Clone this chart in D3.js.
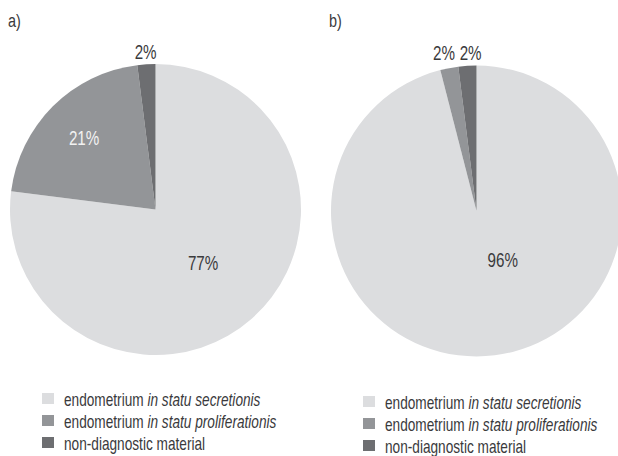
<!DOCTYPE html>
<html>
<head>
<meta charset="utf-8">
<script src="https://cdn.jsdelivr.net/npm/d3@7"></script>
<style>
body { margin: 0; background: #fff; }
text { font-family: "Liberation Sans", Arial, sans-serif; }
</style>
</head>
<body>
<svg id="chart" width="618" height="456"></svg>
<script>
// categories and values
var categories = ["secretionis", "proliferationis", "nondiagnostic"];
var valuesA = [77, 21, 2];
var valuesB = [96, 2, 2];
var panelLabels = ["a)", "b)"];

var colors = d3.scaleOrdinal()
    .domain(categories)
    .range(["#dcdddf", "#939598", "#6d6e71"]);

var svg = d3.select("#chart");

var radius = 145.5;
var squeeze = 0.76;   // condensed look of the original typeface

var pie = d3.pie().sort(null).value(function(d) { return d.value; });
var arc = d3.arc().innerRadius(0).outerRadius(radius);

var drawPie = function(values, cx, cy, panel, labelCfg) {
    var data = categories.map(function(c, i) { return {cat: c, value: values[i]}; });
    var g = svg.append("g").attr("transform", "translate(" + cx + "," + cy + ")");

    g.selectAll("path")
        .data(pie(data))
        .enter()
        .append("path")
        .attr("d", arc)
        .attr("fill", function(d) { return colors(d.data.cat); });

    g.selectAll("text.val")
        .data(pie(data))
        .enter()
        .append("text")
        .attr("class", "val")
        .attr("text-anchor", "middle")
        .attr("dominant-baseline", "central")
        .attr("font-size", 20)
        .attr("fill", function(d, i) { return labelCfg[i].color; })
        .attr("transform", function(d, i) {
            var c = labelCfg[i];
            var a = (d.startAngle + d.endAngle) / 2;
            var x = Math.sin(a) * c.r + c.dx;
            var y = -Math.cos(a) * c.r + c.dy;
            if (c.outside) { y = -radius - 12; }
            return "translate(" + x + "," + y + ") scale(" + squeeze + ",1)";
        })
        .text(function(d) { return d.data.value + "%"; });

    svg.append("text")
        .attr("transform", "translate(" + (cx - radius - 2) + ",27) scale(" + squeeze + ",1)")
        .attr("font-size", 19)
        .attr("fill", "#3a3a3c")
        .text(panel);
};

drawPie(valuesA, 155.5, 209.5, panelLabels[0], [
    {r: 72, dx: 0, dy: 0, color: "#3a3a3c"},
    {r: 101, dx: 0, dy: 0, color: "#f2f2f2"},
    {r: 157, dx: 0, dy: 0, color: "#3a3a3c", outside: true}
]);
drawPie(valuesB, 476.5, 211, panelLabels[1], [
    {r: 50, dx: 20, dy: 0, color: "#3a3a3c"},
    {r: 157, dx: -3, dy: 0, color: "#3a3a3c", outside: true},
    {r: 157, dx: 4, dy: 0, color: "#3a3a3c", outside: true}
]);

// legends
var legendParts = [
    ["endometrium ", "in statu secretionis"],
    ["endometrium ", "in statu proliferationis"],
    ["non-diagnostic material", ""]
];

var drawLegend = function(x, y) {
    var lg = svg.append("g").attr("transform", "translate(" + x + "," + y + ")");
    var rows = lg.selectAll("g")
        .data(categories)
        .enter()
        .append("g")
        .attr("transform", function(d, i) { return "translate(0," + (i * 22) + ")"; });
    rows.append("rect")
        .attr("width", 12)
        .attr("height", 11)
        .attr("fill", function(d) { return colors(d); });
    var t = rows.append("text")
        .attr("transform", "translate(22,6) scale(0.78,1)")
        .attr("dominant-baseline", "central")
        .attr("font-size", 17.5)
        .attr("fill", "#3a3a3c");
    t.append("tspan").text(function(d, i) { return legendParts[i][0]; });
    t.append("tspan").attr("font-style", "italic").text(function(d, i) { return legendParts[i][1]; });
};

drawLegend(42, 393);
drawLegend(363, 396);
</script>
</body>
</html>
